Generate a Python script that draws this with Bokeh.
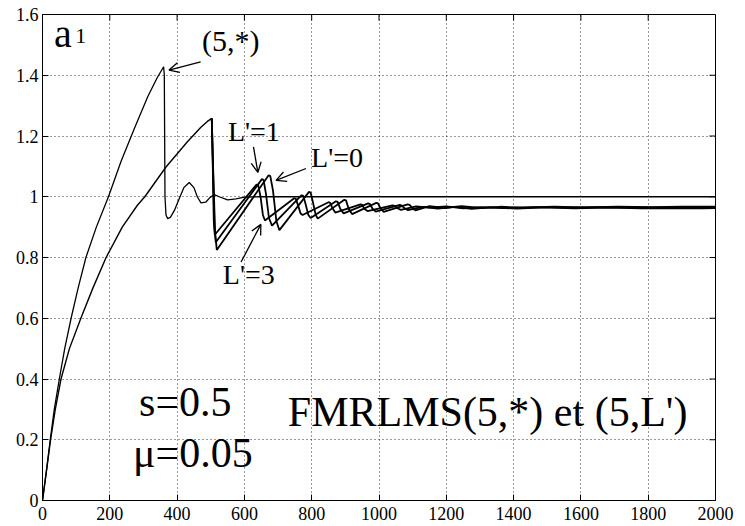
from bokeh.plotting import figure
from bokeh.models import Label, Arrow, OpenHead, FixedTicker, Range1d
from bokeh.embed import file_html
from bokeh.resources import INLINE

# ---------------- data ----------------
x_ticks = [0, 200, 400, 600, 800, 1000, 1200, 1400, 1600, 1800, 2000]
y_ticks = [0, 0.2, 0.4, 0.6, 0.8, 1.0, 1.2, 1.4, 1.6]
y_tick_labels = ["0", "0.2", "0.4", "0.6", "0.8", "1", "1.2", "1.4", "1.6"]

# FMRLMS(5,*)
star_x = [0, 12, 23, 35, 50, 66, 85, 106, 129, 160, 196, 233, 273, 313, 340, 360,
          362, 363, 364, 367, 372, 380, 392, 405, 420, 436, 450, 460, 471, 485, 498,
          511, 525, 550, 575, 600, 650, 2000]
star_y = [0, 0.1, 0.2, 0.3, 0.4, 0.5, 0.6, 0.7, 0.8, 0.9, 1.0, 1.115, 1.225, 1.33, 1.39, 1.428,
          1.40, 1.2, 1.0, 0.94, 0.928, 0.932, 0.955, 0.99, 1.03, 1.047, 1.03, 1.0, 0.98, 0.982, 0.998,
          1.007, 1.0, 0.99, 0.993, 0.999, 1.0, 1.0]

# common rising part of the FMRLMS(5,L') curves
rise_x = [0, 12, 24, 38, 55, 80, 114, 150, 189, 237, 282, 304, 367, 430, 470, 490, 503]
rise_y = [0, 0.1, 0.2, 0.3, 0.4, 0.5, 0.6, 0.7, 0.8, 0.9, 0.972, 1.0, 1.098, 1.18, 1.228, 1.248, 1.258]

# L'=1
l1_x = [503, 506, 509, 512, 636, 641, 648, 655, 661, 748, 753, 760, 767, 773, 850, 855, 862, 870,
        945, 950, 957, 966, 1040, 1046, 1055, 1065, 1110, 1150, 1200, 1250, 1300, 1380, 1460,
        1550, 1650, 1750, 1850, 1950, 2000]
l1_y = [1.258, 1.1, 0.92, 0.875, 1.04, 1.038, 1.0, 0.94, 0.922, 0.995, 0.993, 0.97, 0.945, 0.94,
        0.982, 0.98, 0.962, 0.948, 0.975, 0.973, 0.96, 0.953, 0.972, 0.97, 0.962, 0.957, 0.968,
        0.964, 0.968, 0.962, 0.966, 0.963, 0.966, 0.964, 0.966, 0.964, 0.965, 0.964, 0.965]

# L'=3
l3_x = [503, 507, 511, 515, 652, 657, 664, 673, 682, 770, 775, 782, 790, 797, 872, 877, 885, 895,
        968, 973, 980, 990, 1062, 1068, 1076, 1086, 1130, 1175, 1225, 1275, 1330, 1410, 1490,
        1580, 1680, 1780, 1880, 1960, 2000]
l3_y = [1.258, 1.08, 0.9, 0.85, 1.058, 1.055, 1.01, 0.93, 0.905, 1.005, 1.003, 0.975, 0.94, 0.93,
        0.985, 0.983, 0.96, 0.945, 0.978, 0.976, 0.962, 0.951, 0.973, 0.971, 0.962, 0.956, 0.967,
        0.961, 0.967, 0.96, 0.965, 0.961, 0.965, 0.962, 0.964, 0.962, 0.963, 0.962, 0.963]

# L'=0
l0_x = [503, 508, 513, 518, 672, 677, 685, 695, 704, 792, 797, 804, 812, 818, 897, 902, 910, 920,
        992, 997, 1004, 1014, 1085, 1091, 1099, 1108, 1150, 1195, 1245, 1300, 1360, 1430, 1520,
        1610, 1710, 1810, 1900, 2000]
l0_y = [1.258, 1.06, 0.88, 0.825, 1.071, 1.068, 1.02, 0.92, 0.89, 1.016, 1.013, 0.98, 0.94, 0.928,
        0.99, 0.988, 0.96, 0.943, 0.98, 0.978, 0.963, 0.95, 0.975, 0.973, 0.963, 0.955, 0.969,
        0.963, 0.969, 0.963, 0.967, 0.964, 0.967, 0.965, 0.967, 0.966, 0.967, 0.967]

FONT = "Liberation Serif"
X0, X1, Y0, Y1 = 0, 2000, 0, 1.6
TICK_DX, TICK_DY = 18, 0.02   # inward tick length (~6 px) in data units

p = figure(width=745, height=526, x_range=Range1d(X0, X1), y_range=Range1d(Y0, Y1),
           output_backend="svg", toolbar_location=None,
           min_border_left=42, min_border_right=30, min_border_top=14, min_border_bottom=26)

p.outline_line_color = "black"
p.outline_line_width = 1
p.background_fill_color = "white"
p.border_fill_color = "white"

for g in (p.xgrid, p.ygrid):
    g.grid_line_color = "black"
    g.grid_line_dash = "1 3"
    g.grid_line_width = 1
    g.grid_line_alpha = 0.8
p.xgrid.ticker = FixedTicker(ticks=x_ticks)
p.ygrid.ticker = FixedTicker(ticks=y_ticks)

p.xaxis.ticker = FixedTicker(ticks=x_ticks)
p.yaxis.ticker = FixedTicker(ticks=y_ticks)
p.yaxis.major_label_overrides = {t: s for t, s in zip(y_ticks, y_tick_labels)}
for ax in (p.xaxis, p.yaxis):
    ax.major_tick_in = 6
    ax.major_tick_out = 0
    ax.minor_tick_line_color = None
    ax.axis_line_color = "black"
    ax.axis_label_standoff = 0
    ax.major_label_text_font = FONT
    ax.major_label_text_font_size = "18px"
    ax.major_label_text_color = "black"
p.xaxis.major_label_standoff = 6
p.yaxis.major_label_standoff = 4

# inward ticks on top and right sides
p.segment(x0=x_ticks, y0=[Y1] * len(x_ticks), x1=x_ticks, y1=[Y1 - TICK_DY] * len(x_ticks),
          line_color="black", line_width=1)
p.segment(x0=[X1] * len(y_ticks), y0=y_ticks, x1=[X1 - TICK_DX] * len(y_ticks), y1=y_ticks,
          line_color="black", line_width=1)

# curves
p.line(star_x, star_y, line_color="black", line_width=1.3)
p.line(rise_x, rise_y, line_color="black", line_width=1.4)
p.line(l1_x, l1_y, line_color="black", line_width=1.8)
p.line(l3_x, l3_y, line_color="black", line_width=1.8)
p.line(l0_x, l0_y, line_color="black", line_width=1.8)

# texts
def lab(x, y, t, size):
    p.add_layout(Label(x=x, y=y, text=t, text_font=FONT, text_font_size=size,
                       text_color="black", text_baseline="alphabetic", text_align="left"))

lab(34, 1.539, "a", "40px")
lab(97, 1.528, "1", "22px")
lab(474, 1.513, "(5,*)", "30px")
lab(551, 1.216, "L'=1", "28px")
lab(798, 1.130, "L'=0", "28px")
lab(536, 0.745, "L'=3", "28px")
lab(287, 0.323, "s=0.5", "42px")
lab(269, 0.155, "\u03bc=0.05", "42px")
lab(729, 0.290, "FMRLMS(5,*) et (5,L')", "42px")

# arrows
for (x0, y0, x1, y1) in [(470, 1.444, 376, 1.417),
                         (627, 1.164, 640, 1.080),
                         (783, 1.093, 694, 1.054),
                         (590, 0.785, 649, 0.909)]:
    p.add_layout(Arrow(x_start=x0, y_start=y0, x_end=x1, y_end=y1,
                       line_color="black", line_width=1.3,
                       end=OpenHead(size=10, line_color="black", line_width=1.3)))

open("out.html", "w").write(file_html(p, INLINE))
